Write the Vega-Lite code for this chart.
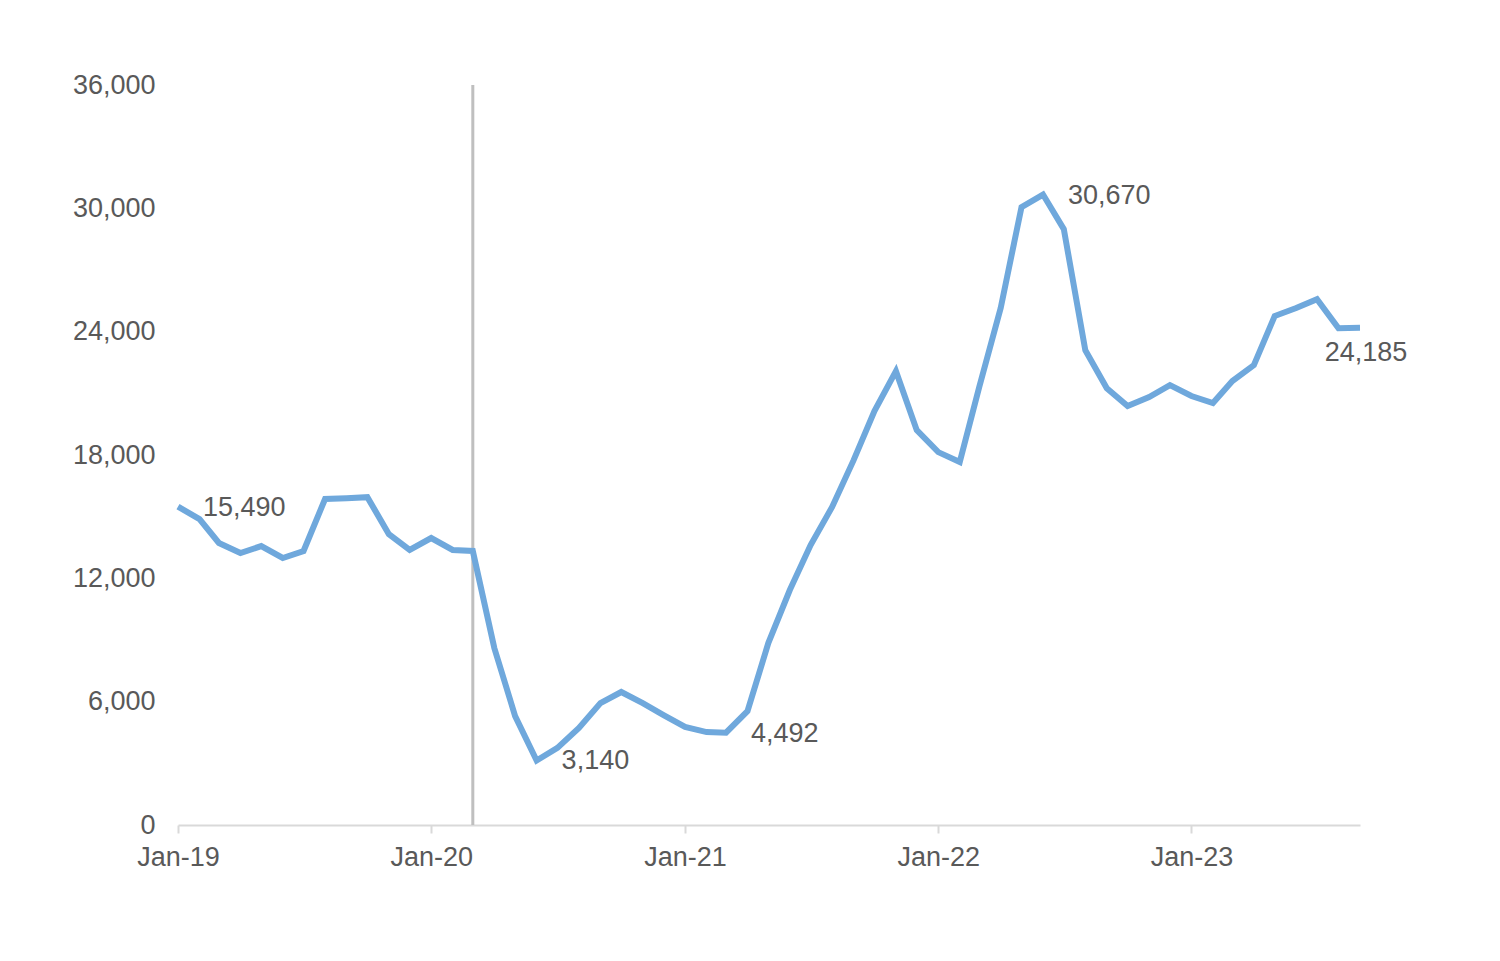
{
  "$schema": "https://vega.github.io/schema/vega-lite/v6.json",
  "width": 1182,
  "height": 740,
  "autosize": {"type": "none"},
  "padding": {"left": 178, "top": 85, "right": 140, "bottom": 136},
  "background": "white",
  "config": {"view": {"stroke": null}, "font": "Liberation Sans"},
  "data": {"values": [
    {"date": "2019-01-01", "value": 15490},
    {"date": "2019-02-01", "value": 14880},
    {"date": "2019-03-01", "value": 13720},
    {"date": "2019-04-01", "value": 13230},
    {"date": "2019-05-01", "value": 13570},
    {"date": "2019-06-01", "value": 12990},
    {"date": "2019-07-01", "value": 13330},
    {"date": "2019-08-01", "value": 15860},
    {"date": "2019-09-01", "value": 15900},
    {"date": "2019-10-01", "value": 15950},
    {"date": "2019-11-01", "value": 14150},
    {"date": "2019-12-01", "value": 13380},
    {"date": "2020-01-01", "value": 13960},
    {"date": "2020-02-01", "value": 13380},
    {"date": "2020-03-01", "value": 13330},
    {"date": "2020-04-01", "value": 8610},
    {"date": "2020-05-01", "value": 5300},
    {"date": "2020-06-01", "value": 3140},
    {"date": "2020-07-01", "value": 3750},
    {"date": "2020-08-01", "value": 4720},
    {"date": "2020-09-01", "value": 5930},
    {"date": "2020-10-01", "value": 6470},
    {"date": "2020-11-01", "value": 5930},
    {"date": "2020-12-01", "value": 5350},
    {"date": "2021-01-01", "value": 4770},
    {"date": "2021-02-01", "value": 4520},
    {"date": "2021-03-01", "value": 4492},
    {"date": "2021-04-01", "value": 5540},
    {"date": "2021-05-01", "value": 8850},
    {"date": "2021-06-01", "value": 11430},
    {"date": "2021-07-01", "value": 13620},
    {"date": "2021-08-01", "value": 15470},
    {"date": "2021-09-01", "value": 17750},
    {"date": "2021-10-01", "value": 20140},
    {"date": "2021-11-01", "value": 22080},
    {"date": "2021-12-01", "value": 19210},
    {"date": "2022-01-01", "value": 18140},
    {"date": "2022-02-01", "value": 17660},
    {"date": "2022-03-01", "value": 21300},
    {"date": "2022-04-01", "value": 25150},
    {"date": "2022-05-01", "value": 30060},
    {"date": "2022-06-01", "value": 30670},
    {"date": "2022-07-01", "value": 28990},
    {"date": "2022-08-01", "value": 23100},
    {"date": "2022-09-01", "value": 21250},
    {"date": "2022-10-01", "value": 20380},
    {"date": "2022-11-01", "value": 20820},
    {"date": "2022-12-01", "value": 21400},
    {"date": "2023-01-01", "value": 20870},
    {"date": "2023-02-01", "value": 20530},
    {"date": "2023-03-01", "value": 21600},
    {"date": "2023-04-01", "value": 22370},
    {"date": "2023-05-01", "value": 24760},
    {"date": "2023-06-01", "value": 25150},
    {"date": "2023-07-01", "value": 25580},
    {"date": "2023-08-01", "value": 24170},
    {"date": "2023-09-01", "value": 24185}
  ]},
  "encoding": {
    "x": {
      "field": "date", "type": "temporal",
      "scale": {"type": "utc", "domain": [{"year": 2019, "month": 1, "date": 1, "utc": true}, {"year": 2023, "month": 9, "date": 1, "utc": true}]},
      "axis": {
        "title": null,
        "values": [
          {"year": 2019, "month": 1, "date": 1, "utc": true},
          {"year": 2020, "month": 1, "date": 1, "utc": true},
          {"year": 2021, "month": 1, "date": 1, "utc": true},
          {"year": 2022, "month": 1, "date": 1, "utc": true},
          {"year": 2023, "month": 1, "date": 1, "utc": true}
        ],
        "labelExpr": "utcFormat(datum.value, '%b-%y')",
        "grid": false,
        "domainColor": "#d9d9d9", "domainWidth": 2,
        "tickColor": "#d9d9d9", "tickWidth": 2, "tickSize": 8,
        "labelColor": "#595959", "labelFontSize": 27, "labelPadding": 11,
        "labelFlush": false, "labelOverlap": false
      }
    }
  },
  "layer": [
    {
      "transform": [{"filter": "utcFormat(datum.date, '%Y-%m') == '2020-03'"}],
      "mark": {"type": "rule", "color": "#bfbfbf", "strokeWidth": 3},
      "encoding": {
        "y": {"datum": 0, "type": "quantitative", "scale": {"domain": [0, 36000], "nice": false}},
        "y2": {"datum": 36000}
      }
    },
    {
      "mark": {"type": "line", "color": "#6fa8dc", "strokeWidth": 6, "strokeJoin": "miter"},
      "encoding": {
        "y": {
          "field": "value", "type": "quantitative",
          "scale": {"domain": [0, 36000], "nice": false},
          "axis": {
            "title": null,
            "values": [0, 6000, 12000, 18000, 24000, 30000, 36000],
            "format": ",d",
            "grid": false, "domain": false, "ticks": false,
            "labelColor": "#595959", "labelFontSize": 27, "labelPadding": 23
          }
        }
      }
    },
    {
      "transform": [{"filter": "indexof(['2019-01','2020-06','2021-03','2022-06'], utcFormat(datum.date, '%Y-%m')) >= 0"}],
      "mark": {"type": "text", "align": "left", "baseline": "middle", "dx": 25, "dy": 1, "fontSize": 27, "color": "#595959"},
      "encoding": {
        "y": {"field": "value", "type": "quantitative"},
        "text": {"field": "value", "type": "quantitative", "format": ",d"}
      }
    },
    {
      "transform": [{"filter": "utcFormat(datum.date, '%Y-%m') == '2023-09'"}],
      "mark": {"type": "text", "align": "center", "baseline": "middle", "dx": 6, "dy": 25, "fontSize": 27, "color": "#595959"},
      "encoding": {
        "y": {"field": "value", "type": "quantitative"},
        "text": {"field": "value", "type": "quantitative", "format": ",d"}
      }
    }
  ]
}
